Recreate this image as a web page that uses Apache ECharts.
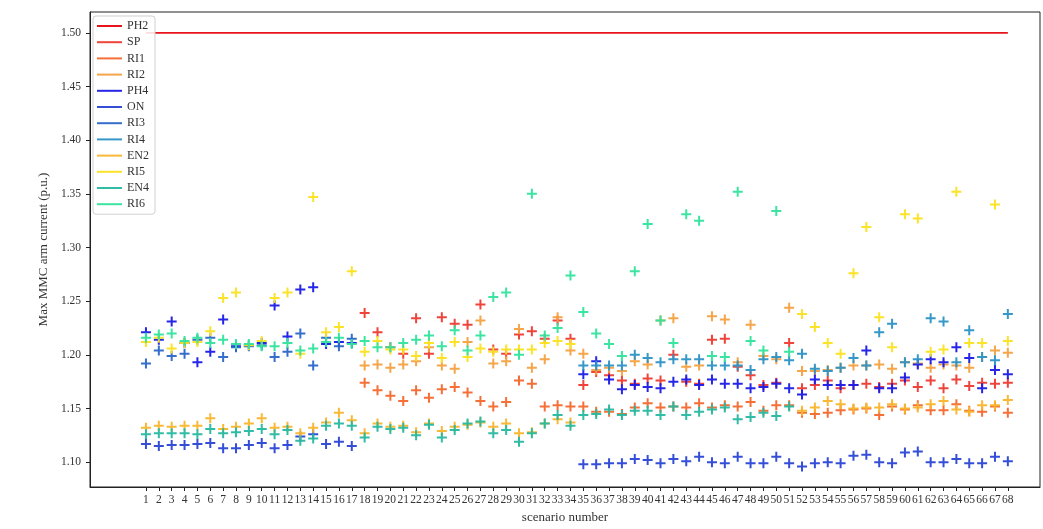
<!DOCTYPE html>
<html>
<head>
<meta charset="utf-8">
<script src="https://cdn.jsdelivr.net/npm/echarts@6/dist/echarts.min.js"></script>
<style>
html,body{margin:0;padding:0;background:#fff;}
#chart{width:1043px;height:529px;}
</style>
</head>
<body>
<div id="chart"></div>
<script>
const scenarios = [1,2,3,4,5,6,7,8,9,10,11,12,13,14,15,16,17,18,19,20,21,22,23,24,25,26,27,28,29,30,31,32,33,34,35,36,37,38,39,40,41,42,43,44,45,46,47,48,49,50,51,52,53,54,55,56,57,58,59,60,61,62,63,64,65,66,67,68];
const yTicks = [1.10,1.15,1.20,1.25,1.30,1.35,1.40,1.45,1.50];
const _ = null;

const PH2 = [1.5,1.5,1.5,1.5,1.5,1.5,1.5,1.5,1.5,1.5,1.5,1.5,1.5,1.5,1.5,1.5,1.5,1.5,1.5,1.5,1.5,1.5,1.5,1.5,1.5,1.5,1.5,1.5,1.5,1.5,1.5,1.5,1.5,1.5,1.5,1.5,1.5,1.5,1.5,1.5,1.5,1.5,1.5,1.5,1.5,1.5,1.5,1.5,1.5,1.5,1.5,1.5,1.5,1.5,1.5,1.5,1.5,1.5,1.5,1.5,1.5,1.5,1.5,1.5,1.5,1.5,1.5,1.5];

const SP = [_,_,_,_,_,_,_,_,_,_,_,_,_,_,_,_,_,
  1.239,1.221,1.207,1.201,1.234,1.201,1.235,1.229,1.228,1.247,1.205,1.201,1.219,1.222,1.215,1.232,1.215,
  1.172,1.184,1.181,1.176,1.173,1.178,1.176,1.200,1.175,1.173,1.214,1.215,1.189,1.181,1.172,1.174,1.211,
  1.169,1.172,1.176,1.169,1.172,1.173,1.170,1.173,1.176,1.170,1.176,1.169,1.177,1.171,1.174,1.173,1.174];

const RI1 = [_,_,_,_,_,_,_,_,_,_,_,_,_,_,_,_,_,
  1.174,1.167,1.162,1.157,1.167,1.160,1.168,1.170,1.165,1.157,1.152,1.156,1.176,1.173,1.152,1.153,1.152,
  1.152,1.147,1.147,1.145,1.151,1.155,1.151,1.152,1.151,1.155,1.151,1.153,1.152,1.156,1.148,1.153,1.153,
  1.146,1.145,1.146,1.1485,1.149,1.150,1.144,1.152,1.149,1.153,1.1485,1.1485,1.154,1.148,1.147,1.152,1.146];

const RI2 = [_,_,_,_,_,_,_,_,_,_,_,_,_,_,_,_,_,
  1.190,1.191,1.188,1.191,1.194,1.207,1.190,1.187,1.212,1.232,1.192,1.194,1.224,1.188,1.196,1.235,1.204,
  1.201,1.186,1.188,1.185,1.194,1.191,1.232,1.234,1.189,1.190,1.236,1.233,1.193,1.228,1.199,1.196,1.244,
  1.185,1.185,1.186,1.188,1.190,1.190,1.191,1.187,1.193,1.192,1.188,1.191,1.190,1.188,1.198,1.204,1.202];

const PH4 = [1.221,1.214,1.231,1.211,1.193,1.203,1.233,1.208,1.209,1.211,1.246,1.217,1.261,1.263,1.210,1.212,1.211,
  _,_,_,_,_,_,_,_,_,_,_,_,_,_,_,_,_,
  1.182,1.194,1.177,1.168,1.172,1.170,1.169,1.175,1.177,1.172,1.177,1.173,1.173,1.169,1.170,1.173,1.169,
  1.163,1.177,1.172,1.172,1.172,1.204,1.169,1.169,1.179,1.191,1.196,1.193,1.207,1.197,1.169,1.186,1.182];

const ON = [1.117,1.115,1.116,1.116,1.117,1.118,1.113,1.113,1.116,1.118,1.113,1.116,1.124,1.126,1.117,1.119,1.115,
  _,_,_,_,_,_,_,_,_,_,_,_,_,_,_,_,_,
  1.098,1.098,1.099,1.099,1.103,1.102,1.099,1.103,1.101,1.105,1.100,1.099,1.105,1.099,1.099,1.105,1.099,
  1.096,1.099,1.100,1.099,1.106,1.107,1.100,1.099,1.109,1.110,1.100,1.100,1.103,1.099,1.099,1.105,1.101];

const RI3 = [1.192,1.204,1.199,1.201,1.214,1.216,1.198,1.207,1.208,1.209,1.198,1.203,1.220,1.190,1.216,1.208,1.215,
  _,_,_,_,_,_,_,_,_,_,_,_,_,_,_,_,_,
  _,_,_,_,_,_,_,_,_,_,_,_,_,_,_,_,_,
  _,_,_,_,_,_,_,_,_,_,_,_,_,_,_,_,_];

const RI4 = [_,_,_,_,_,_,_,_,_,_,_,_,_,_,_,_,_,
  _,_,_,_,_,_,_,_,_,_,_,_,_,_,_,_,_,
  1.190,1.190,1.190,1.190,1.200,1.197,1.193,1.196,1.196,1.196,1.190,1.190,1.190,1.186,1.196,1.198,1.195,
  1.201,1.187,1.185,1.188,1.197,1.190,1.221,1.229,1.193,1.196,1.234,1.231,1.193,1.223,1.198,1.195,1.238];

const EN2 = [1.132,1.134,1.133,1.134,1.134,1.141,1.131,1.133,1.136,1.141,1.132,1.133,1.127,1.132,1.137,1.146,1.139,
  1.127,1.136,1.133,1.134,1.128,1.136,1.129,1.133,1.135,1.137,1.133,1.136,1.127,1.128,1.136,1.140,1.137,
  _,_,_,_,_,_,_,_,_,_,_,_,_,_,_,_,_,
  1.148,1.151,1.157,1.154,1.150,1.151,1.151,1.154,1.150,1.151,1.154,1.157,1.149,1.147,1.153,1.153,1.158];

const RI5 = [1.212,1.216,1.206,1.211,1.212,1.222,1.253,1.258,1.209,1.213,1.253,1.258,1.201,1.347,1.221,1.226,1.278,
  1.203,1.213,1.205,1.205,1.199,1.211,1.197,1.212,1.198,1.206,1.203,1.205,1.205,1.205,1.211,1.213,1.210,
  _,_,_,_,_,_,_,_,_,_,_,_,_,_,_,_,_,
  1.238,1.226,1.211,1.201,1.276,1.319,1.235,1.207,1.331,1.327,1.203,1.205,1.352,1.211,1.211,1.340,1.213];

const EN4 = [1.126,1.127,1.127,1.127,1.126,1.131,1.127,1.128,1.129,1.131,1.126,1.130,1.120,1.122,1.134,1.136,1.134,
  1.123,1.133,1.131,1.132,1.125,1.135,1.123,1.130,1.136,1.138,1.127,1.130,1.119,1.127,1.136,1.144,1.134,
  1.144,1.145,1.149,1.144,1.148,1.148,1.144,1.152,1.144,1.147,1.149,1.151,1.140,1.142,1.146,1.143,1.152,
  _,_,_,_,_,_,_,_,_,_,_,_,_,_,_,_,_];

const RI6 = [1.216,1.219,1.220,1.213,1.216,1.211,1.214,1.210,1.210,1.208,1.208,1.211,1.204,1.206,1.212,1.216,1.210,
  1.213,1.207,1.207,1.211,1.214,1.218,1.208,1.223,1.204,1.218,1.254,1.258,1.200,1.350,1.218,1.225,1.274,
  1.240,1.220,1.210,1.199,1.278,1.322,1.232,1.211,1.331,1.325,1.199,1.198,1.352,1.213,1.204,1.334,1.203,
  _,_,_,_,_,_,_,_,_,_,_,_,_,_,_,_,_];

const seriesNames = ['PH2','SP','RI1','RI2','PH4','ON','RI3','RI4','EN2','RI5','EN4','RI6'];
const seriesValues = [PH2,SP,RI1,RI2,PH4,ON,RI3,RI4,EN2,RI5,EN4,RI6];
const seriesColors = ['#e8141c','#ee3a30','#f4682c','#f4a040','#1a1ae8','#2a44d6','#2a66c8','#2a92c6','#f9b52c','#fbe21e','#26b8a0','#30e49c'];

const plusPath = 'path://M0,4H4V0H6V4H10V6H6V10H4V6H0Z';
const serif = 'Liberation Serif';

function toPoints(vals){
  const out = [];
  vals.forEach((v,i)=>{ if(v!==null) out.push([scenarios[i], v]); });
  return out;
}

const series = seriesNames.map((name, k) => {
  if (k === 0) {
    return {
      name, type:'line', data: toPoints(seriesValues[k]), symbol:'none',
      lineStyle:{color:seriesColors[k], width:1.8}, itemStyle:{color:seriesColors[k]},
      z: 2, silent:true
    };
  }
  return {
    name, type:'scatter', data: toPoints(seriesValues[k]),
    symbol: plusPath, symbolSize: 10,
    itemStyle:{color:seriesColors[k], opacity:0.95}, z: 3
  };
});

const chart = echarts.init(document.getElementById('chart'), null, {renderer:'canvas'});
chart.setOption({
  animation:false,
  backgroundColor:'#fff',
  grid:{left:90, right:3, top:12, bottom:39, show:true, borderColor:'#222', borderWidth:1, backgroundColor:'transparent'},
  legend:{
    orient:'vertical', left:93, top:16,
    data: seriesNames.map((n,k)=>({name:n, icon:'rect', itemStyle:{color:seriesColors[k]}})),
    itemWidth:25, itemHeight:2, itemGap:4.2,
    textStyle:{fontFamily:serif, fontSize:12, color:'#333', lineHeight:12},
    backgroundColor:'rgba(255,255,255,0.85)', borderColor:'#d0d0d0', borderWidth:1, borderRadius:3,
    padding:[4,6,4,4]
  },
  xAxis:{
    type:'value', min:-3.35, max:70.5,
    name:'scenario number', nameLocation:'middle', nameGap:24,
    nameTextStyle:{fontFamily:serif, fontSize:13, color:'#333'},
    axisLine:{show:true, onZero:false, lineStyle:{color:'#222'}},
    axisTick:{show:true, inside:false, length:4, lineStyle:{color:'#222'}, customValues:scenarios},
    axisLabel:{fontFamily:serif, fontSize:11.5, color:'#333', margin:7, customValues:scenarios, hideOverlap:false},
    splitLine:{show:false}
  },
  yAxis:{
    type:'value', min:1.0769, max:1.5194,
    name:'Max MMC arm current (p.u.)', nameLocation:'middle', nameGap:37, nameRotate:90,
    nameTextStyle:{fontFamily:serif, fontSize:13, color:'#333'},
    axisLine:{show:true, onZero:false, lineStyle:{color:'#222'}},
    axisTick:{show:true, inside:false, length:4, lineStyle:{color:'#222'}, customValues:yTicks},
    axisLabel:{fontFamily:serif, fontSize:11.5, color:'#333', margin:9, customValues:yTicks, formatter:v=>v.toFixed(2)},
    splitLine:{show:false}
  },
  series
});
</script>
</body>
</html>
